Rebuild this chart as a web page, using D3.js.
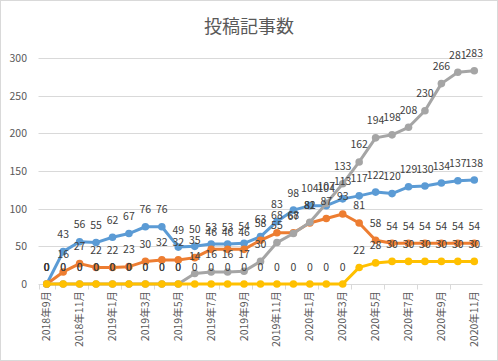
<!DOCTYPE html>
<html><head><meta charset="utf-8">
<script src="https://cdn.jsdelivr.net/npm/d3@7"></script>
<style>body{margin:0;background:#fff}svg{display:block}text{font-family:"Noto Sans CJK JP","Noto Sans",sans-serif}</style>
</head><body>
<script>
const months = ["2018年9月","2018年10月","2018年11月","2018年12月","2019年1月","2019年2月","2019年3月","2019年4月","2019年5月","2019年6月","2019年7月","2019年8月","2019年9月","2019年10月","2019年11月","2019年12月","2020年1月","2020年2月","2020年3月","2020年4月","2020年5月","2020年6月","2020年7月","2020年8月","2020年9月","2020年10月","2020年11月"];
const blueValues   = [0,43,56,55,62,67,76,76,49,50,53,53,54,63,83,98,104,104,113,117,122,120,129,130,134,137,138];
const orangeValues = [0,16,27,22,22,23,30,32,32,35,46,46,46,58,68,68,81,87,93,81,58,54,54,54,54,54,54];
const grayValues   = [0,0,0,0,0,0,0,0,0,14,16,16,17,30,55,67,82,107,133,162,194,198,208,230,266,281,283];
const yellowValues = [0,0,0,0,0,0,0,0,0,0,0,0,0,0,0,0,0,0,0,22,28,30,30,30,30,30,30];
const yTicks = [0,50,100,150,200,250,300];
const title = "投稿記事数";

const series = [
  {values: blueValues, color: "#5B9BD5"},
  {values: orangeValues, color: "#ED7D31"},
  {values: grayValues, color: "#A5A5A5"},
  {values: yellowValues, color: "#FFC000"}
];

const W = 498, H = 361;
const svg = d3.select("body").append("svg").attr("width", W).attr("height", H);
svg.append("rect").attr("x",0.5).attr("y",0.5).attr("width",W-1).attr("height",H-1)
  .attr("fill","#fff").attr("stroke","#d9d9d9");

const x = d3.scaleBand().domain(months).range([38.5, 482.5]).padding(0);
const cx = m => x(m) + x.bandwidth()/2;
const y = d3.scaleLinear().domain([0,300]).range([284, 58]);

// gridlines
svg.append("g").selectAll("line").data(yTicks).join("line")
  .attr("x1", 38.5).attr("x2", 482.5)
  .attr("y1", d => Math.round(y(d))+0.5).attr("y2", d => Math.round(y(d))+0.5)
  .attr("stroke", "#d9d9d9").attr("stroke-width", 1);

// y axis
const yAxis = svg.append("g").attr("transform","translate(38,0)")
  .call(d3.axisLeft(y).tickValues(yTicks).tickSize(0).tickPadding(11));
yAxis.select(".domain").remove();
yAxis.selectAll("text").attr("fill","#595959").style("font-size","10.5px")
  .style("font-family",'"Noto Sans CJK JP",sans-serif');

// x ticks at every 2 category boundaries
const tickIdx = d3.range(0, months.length+1, 2);
svg.append("g").selectAll("line").data(tickIdx).join("line")
  .attr("x1", i => Math.round(38.5 + i*x.bandwidth() - (i>0?x.bandwidth():0))+0.5)
  .attr("x2", i => Math.round(38.5 + i*x.bandwidth() - (i>0?x.bandwidth():0))+0.5)
  .attr("y1", 284.5).attr("y2", 289.5).attr("stroke","#d9d9d9");

// x labels
svg.append("g").selectAll("text").data(months.filter((m,i)=>i%2===0)).join("text")
  .attr("transform", m => `translate(${cx(m)+3.5},291) rotate(-90)`)
  .attr("text-anchor","end").attr("fill","#595959").style("font-size","10.5px")
  .text(m => m);

// lines and markers
const line = d3.line().x((d,i)=>cx(months[i])).y(d=>y(d));
series.forEach(s => {
  const g = svg.append("g");
  g.append("path").datum(s.values).attr("d", line).attr("fill","none")
    .attr("stroke", s.color).attr("stroke-width", 3).attr("stroke-linejoin","round").attr("stroke-linecap","round");
  g.selectAll("circle").data(s.values).join("circle")
    .attr("cx", (d,i)=>cx(months[i])).attr("cy", d=>y(d)).attr("r", 3.8).attr("fill", s.color);
});

// data labels
series.forEach(s => {
  svg.append("g").selectAll("text").data(s.values).join("text")
    .attr("x", (d,i)=>cx(months[i])).attr("y", d=>y(d)-13.5)
    .attr("text-anchor","middle").attr("fill","#404040").style("font-size","10.5px")
    .text(d=>d);
});

// title
svg.append("text").attr("x", 249).attr("y", 33).attr("text-anchor","middle")
  .attr("fill","#595959").style("font-size","18px").text(title);
</script>
</body></html>
